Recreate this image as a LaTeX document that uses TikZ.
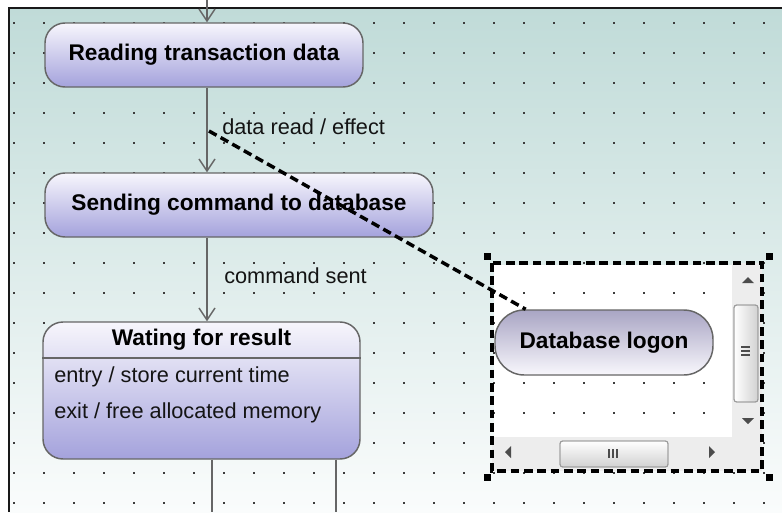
\documentclass[tikz,border=0pt]{standalone}
\usepackage{fontspec}
\setmainfont{Liberation Sans}
\usetikzlibrary{arrows.meta,calc}
\definecolor{bgtop}{HTML}{C0DBD8}
\definecolor{bgbot}{HTML}{FAFCFC}
\definecolor{sttop}{HTML}{F7F6FC}
\definecolor{stbot}{HTML}{A4A2DC}
\definecolor{dbtop}{HTML}{A9A5C4}
\definecolor{dbbot}{HTML}{F8F7FC}
\definecolor{edgec}{HTML}{666666}
\definecolor{dotc}{HTML}{3C3C3C}
\definecolor{sbtrack}{HTML}{EDEDED}
\definecolor{sbedge}{HTML}{9A9A9A}
\definecolor{sbarrow}{HTML}{4C4C4C}
\begin{document}
\begin{tikzpicture}[x=0.75pt,y=-0.75pt,
  statebox/.style={draw=edgec, line width=1.1pt, rounded corners=15pt,
    top color=sttop, bottom color=stbot, inner sep=0pt, text=black,
    font=\fontsize{17}{20}\selectfont\bfseries},
  dbbox/.style={draw=edgec, line width=1.1pt, rounded corners=22pt,
    top color=dbtop, bottom color=dbbot, inner sep=0pt, text=black,
    font=\fontsize{17}{20}\selectfont\bfseries},
  boldtxt/.style={inner sep=0pt, text=black, font=\fontsize{17}{20}\selectfont\bfseries},
  lbl/.style={inner sep=0pt, anchor=west, text=black!92, font=\fontsize{16.3}{19}\selectfont},
  arr/.style={draw=edgec, line width=1.1pt,
    -{Straight Barb[length=9pt,width=12pt,line width=1.1pt]}},
  plain/.style={draw=edgec, line width=1.1pt},
  sel/.style={draw=black, line width=2.6pt, dash pattern=on 6.5pt off 3.5pt},
  handle/.style={fill=black},
  thumb/.style={draw=sbedge, line width=0.7pt, rounded corners=2pt},
  grip/.style={draw=sbarrow, line width=0.8pt}]
\useasboundingbox (0,0) rectangle (782,512);
\fill[white] (0,0) rectangle (782,512);
% canvas background
\shade[top color=bgtop, bottom color=bgbot] (9,8) rectangle (782,512);
% grid of dots
\foreach \i in {0,...,25}{\foreach \j in {0,...,16}{
  \fill[dotc] ({14+30*\i-0.8},{23+30*\j-0.8}) rectangle ++(1.7,1.7);}}
% canvas border
\draw[black!90, line width=1.5pt] (9,512) -- (9,8) -- (782,8);
% selected pane: interior, scrollbars
\fill[white] (494,265) rectangle (732,437);
\begin{scope}
  \clip (494,265) rectangle (732,437);
  \foreach \i in {16,...,24}{\foreach \j in {8,...,14}{
    \fill[dotc] ({14+30*\i-0.8},{23+30*\j-0.8}) rectangle ++(1.7,1.7);}}
\end{scope}
\fill[sbtrack] (732,263) rectangle (762,437);
\fill[sbtrack] (492,437) rectangle (762,471);
\shade[thumb, left color=white, right color=black!18] (734,305) rectangle (758,402);
\draw[thumb] (734,305) rectangle (758,402);
\foreach \yy in {347,351,355}{\draw[grip] (741,\yy) -- (750,\yy);}
\fill[sbarrow] (742,283) -- (754,283) -- (748,277) -- cycle;
\fill[sbarrow] (742,418) -- (754,418) -- (748,424) -- cycle;
\shade[thumb, top color=white, bottom color=black!18] (560,441) rectangle (668,467);
\draw[thumb] (560,441) rectangle (668,467);
\foreach \xx in {609,613,617}{\draw[grip] (\xx,449) -- (\xx,458);}
\fill[sbarrow] (511,446) -- (511,458) -- (505,452) -- cycle;
\fill[sbarrow] (709,446) -- (709,458) -- (715,452) -- cycle;
% helper coordinates
\coordinate (tx) at (207,0);
\coordinate (b1) at (212,512);
\coordinate (b2) at (336,512);
\coordinate (sep) at (0,358);
% states
\node[statebox, minimum width=238.5pt, minimum height=48pt] (n1) at (204,55) {Reading transaction data};
\node[statebox, minimum width=291pt, minimum height=48pt] (n2) at (239,205) {Sending command to database};
\node[statebox, minimum width=237.75pt, minimum height=102.75pt] (n3) at (201.5,390.5) {};
\node[boldtxt] (h3) at (201.5,340) {Wating for result};
\draw[plain] (n3.west |- sep) -- (n3.east |- sep);
\node[lbl] (e3) at (54,377) {entry / store current time};
\node[lbl] (x3) at (54,413) {exit / free allocated memory};
\node[dbbox, minimum width=163.5pt, minimum height=48.75pt] (n4) at (604,342.5) {Database logon};
% transitions
\draw[arr] (tx) -- (tx |- n1.north);
\draw[arr] (tx |- n1.south) -- (tx |- n2.north);
\draw[arr] (tx |- n2.south) -- (tx |- n3.north);
\draw[plain] (b1 |- n3.south) -- (b1);
\draw[plain] (b2 |- n3.south) -- (b2);
\node[lbl] (t1) at (222,127) {data read / effect};
\node[lbl] (t2) at (224,276) {command sent};
% link from transition to selected state
\coordinate (tp) at (209,131);
\draw[sel] (tp) -- (n4.157);
% selection frame and handles
\draw[sel] (492,263) rectangle (762,471);
\foreach \hx/\hy in {487/256,769/256,487/477,769/477}{
  \fill[handle] ({\hx-3.5},{\hy-3.5}) rectangle ++(7,7);}
\end{tikzpicture}
\end{document}
